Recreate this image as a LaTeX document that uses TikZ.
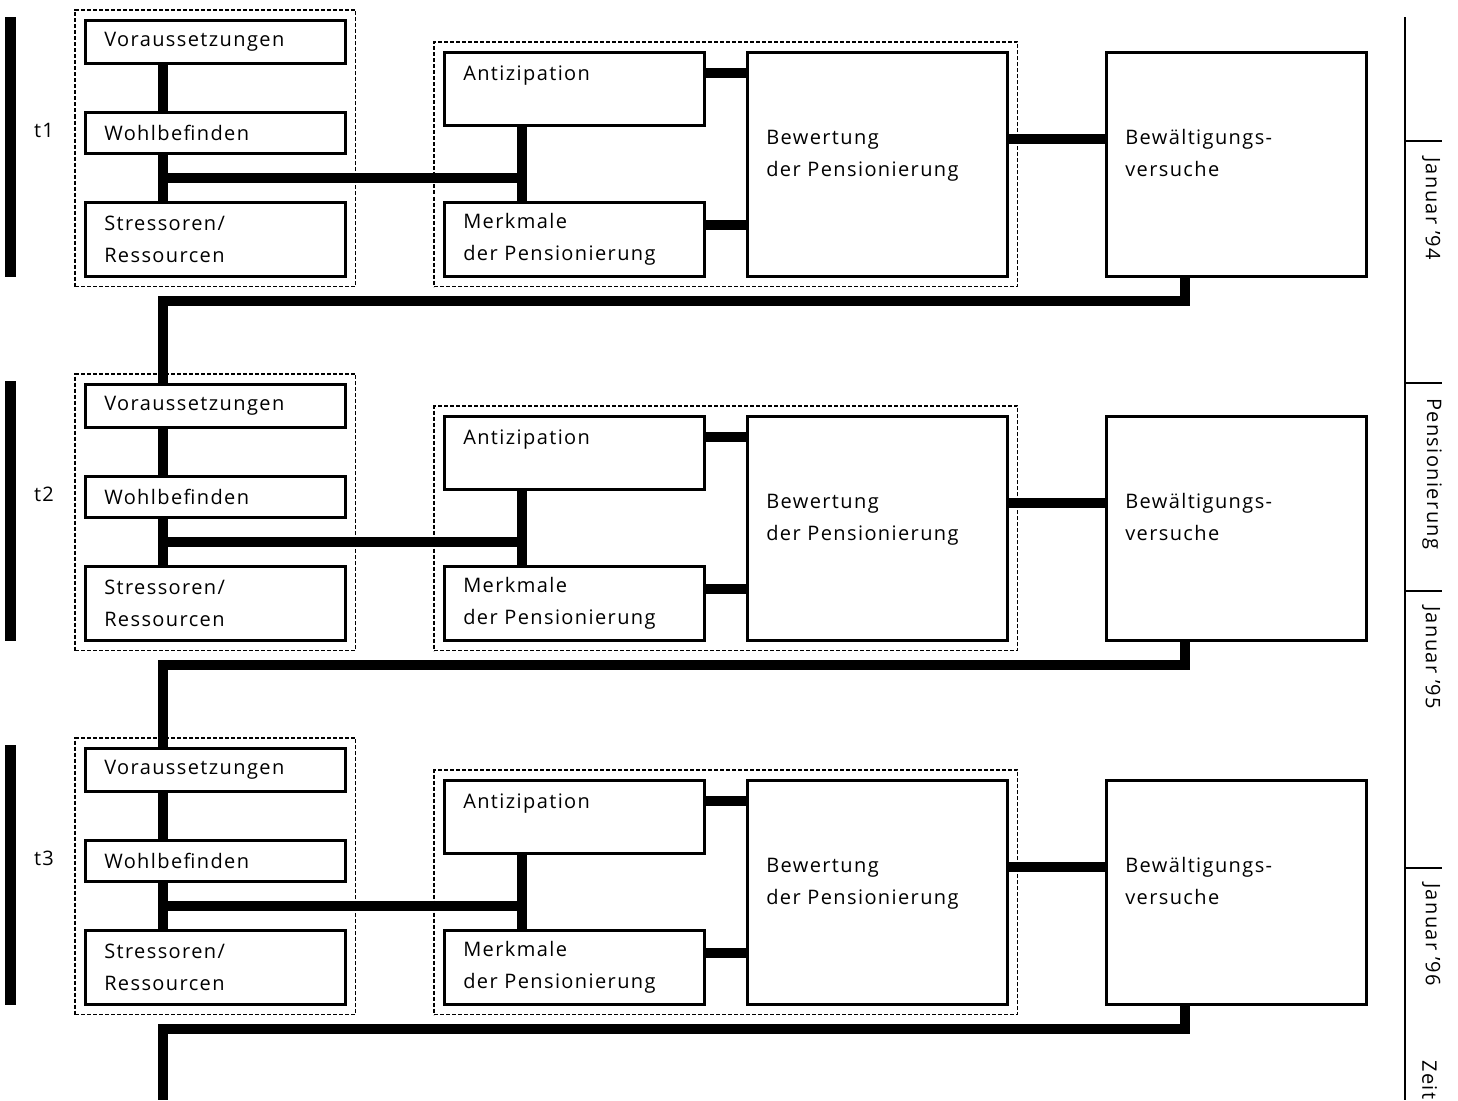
\documentclass[tikz,border=0pt]{standalone}
\usepackage{fontspec}
\setmainfont{Open Sans}[LetterSpace=7.0]
\usepackage{tikz}
\usetikzlibrary{positioning, fit, calc}

\begin{document}
\begin{tikzpicture}[x=1pt, y=-1pt,
    font=\fontsize{20pt}{32pt}\selectfont,
    box/.style={draw, line width=2.5pt, anchor=north west, inner xsep=19pt, inner ysep=0pt, text width=222pt, align=left},
    grp/.style={draw, line width=1.2pt, dash pattern=on 4pt off 2pt, inner sep=9pt},
    conn/.style={line width=10pt},
    bar/.style={line width=11pt},
    axis/.style={line width=2.5pt},
    tl/.style={rotate=-90, anchor=south west, inner sep=0pt}]
    \useasboundingbox (0,0) rectangle (1458,1100);

    \foreach \i/\o in {1/0, 2/364, 3/728} {
        % measurement t\i
        \draw[bar] (10.5,17+\o) -- (10.5,277+\o);
        \node (t\i) at (44,130+\o) {t\i};
        \node[box, minimum height=43pt] (vor\i) at (84,19+\o) {Voraussetzungen};
        \node[box, minimum height=41pt] (wohl\i) at (84,111+\o) {Wohlbefinden};
        \node[box, minimum height=74pt] (str\i) at (84,201+\o) {Stressoren/\\Ressourcen};
        \node[box, minimum height=73pt] (ant\i) at (443,51+\o) {Antizipation\\\mbox{}};
        \node[box, minimum height=74pt] (merk\i) at (443,201+\o) {Merkmale\\der Pensionierung};
        \node[box, minimum height=224pt] (bew\i) at (746,51+\o) {Bewertung\\der Pensionierung\\[-10pt]\mbox{}};
        \node[box, minimum height=224pt] (bw\i) at (1105,51+\o) {Bewältigungs-\\versuche\\[-10pt]\mbox{}};
        \node[grp, fit=(vor\i)(str\i)] (lgrp\i) {};
        \node[grp, fit=(ant\i)(bew\i)] (rgrp\i) {};

        \coordinate (jl\i) at ($(wohl\i.south west)!.5!(str\i.north west)+(79,0)$);
        \coordinate (jr\i) at ([xshift=79pt]ant\i.south west);
        \coordinate (a\i) at ([yshift=-22pt]ant\i.north east);
        \coordinate (m\i) at ([yshift=14pt]merk\i.east);
        \draw[conn] ([xshift=79pt]vor\i.south west) -- ([xshift=79pt]wohl\i.north west);
        \draw[conn] ([xshift=79pt]wohl\i.south west) -- ([xshift=79pt]str\i.north west);
        \draw[conn] (jr\i) -- ([xshift=79pt]merk\i.north west);
        \draw[conn] (jl\i) -- (jl\i -| jr\i);
        \draw[conn] (a\i) -- (a\i -| bew\i.west);
        \draw[conn] (m\i) -- (m\i -| bew\i.west);
        \draw[conn] ([yshift=25pt]bew\i.east) -- ([yshift=25pt]bw\i.west);
    }
    \foreach \i/\n in {1/2, 2/3}
        \draw[conn] ([xshift=80pt]bw\i.south west) -- ++(0,23) -| ([xshift=79pt]vor\n.north west);
    \coordinate (bottom) at (163,1100);
    \draw[conn] ([xshift=80pt]bw3.south west) -- ++(0,23) -| (bottom);

    % time axis
    \draw[axis] (1405,17) -- (1405,1100);
    \foreach \y in {141, 383, 591, 868}
        \draw[axis] (1405,\y) -- (1442,\y);
    \node[tl] (jan94) at (1422,157) {Januar '94};
    \node[tl] (pens) at (1422,398) {Pensionierung};
    \node[tl] (jan95) at (1422,606) {Januar '95};
    \node[tl] (jan96) at (1422,883) {Januar '96};
    \node[tl] (zeit) at (1422,1060) {Zeit};
\end{tikzpicture}
\end{document}
